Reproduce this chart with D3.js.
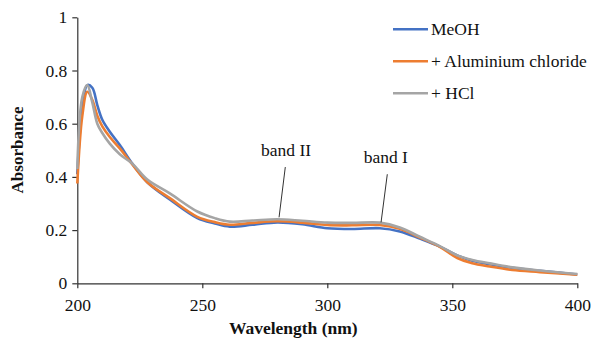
<!DOCTYPE html>
<html>
<head>
<meta charset="utf-8">
<script src="https://cdn.jsdelivr.net/npm/d3@7"></script>
<style>
  body { margin: 0; background: #fff; }
  svg text { font-family: 'Liberation Serif', 'DejaVu Serif', serif !important; fill: #111; }
</style>
</head>
<body>
<div id="chart"></div>
<script>
// wavelengths (nm) and absorbance
var wavelength = [200,202,204,206,208,210,213,217,222,228,237,248,255,261,270,280,290,300,310,321,329,337,345,352,358,365,374,385,400]
var meoh   = [0.41,0.66,0.745,0.735,0.67,0.615,0.57,0.52,0.45,0.38,0.315,0.245,0.225,0.213,0.22,0.229,0.222,0.207,0.204,0.207,0.195,0.168,0.138,0.105,0.085,0.072,0.058,0.047,0.033]
var alcl3  = [0.375,0.63,0.72,0.69,0.63,0.59,0.55,0.507,0.447,0.38,0.32,0.25,0.23,0.22,0.227,0.233,0.228,0.219,0.218,0.219,0.205,0.172,0.137,0.095,0.075,0.063,0.05,0.042,0.032]
var hcl    = [0.43,0.70,0.745,0.68,0.60,0.565,0.525,0.485,0.45,0.39,0.338,0.27,0.245,0.232,0.236,0.241,0.235,0.228,0.227,0.228,0.21,0.175,0.14,0.105,0.088,0.075,0.06,0.048,0.035]

var seriesNames = ["MeOH", "+ Aluminium chloride", "+ HCl"]
var xTicks = [200, 250, 300, 350, 400]
var yTicks = [0, 0.2, 0.4, 0.6, 0.8, 1]
var yTickLabels = ["0", "0.2", "0.4", "0.6", "0.8", "1"]

// band labels: text anchor and pointer line (nm, absorbance)
var bandLabels = ["band II", "band I"]
var bandText   = [[283.5, 0.477], [323.4, 0.452]]
var bandTop    = [[283.2, 0.437], [324, 0.41]]
var bandBottom = [[280.7, 0.248], [321.5, 0.229]]

var col = ["#4472c4", "#ed7d31", "#a5a5a5"]

var W = 593, H = 340
var margin = {top: 17.3, right: 15.7, bottom: 56.7, left: 77.3}
var serif = "'Liberation Serif', 'DejaVu Serif', serif"

var svg = d3.select("#chart").append("svg")
    .attr("width", W)
    .attr("height", H)
    .style("font-family", serif)

var x = d3.scaleLinear().domain([200, 400]).range([margin.left, W - margin.right])
var y = d3.scaleLinear().domain([0, 1]).range([H - margin.bottom, margin.top])

// axes
var xAxis = svg.append("g")
    .attr("transform", "translate(0," + y(0) + ")")
    .call(d3.axisBottom(x).tickValues(xTicks).tickSize(5).tickSizeOuter(0).tickPadding(6))
var yAxis = svg.append("g")
    .attr("transform", "translate(" + x(200) + ",0)")
    .call(d3.axisLeft(y).tickValues(yTicks).tickFormat(function(d, i){ return yTickLabels[i] }).tickSize(5).tickSizeOuter(0).tickPadding(5))

xAxis.attr("font-family", null).attr("font-size", null)
yAxis.attr("font-family", null).attr("font-size", null)
svg.selectAll(".domain, .tick line").attr("stroke", "#333").attr("stroke-width", 1.2)
svg.selectAll(".tick text")
    .style("font-size", "17.5px")
    .attr("fill", "#111")
xAxis.selectAll(".tick text").attr("dy", "0.95em")

// curves
var series = [meoh, alcl3, hcl]
var line = d3.line()
    .x(function(d, i){ return x(wavelength[i]) })
    .y(function(d){ return y(d) })
    .curve(d3.curveCatmullRom.alpha(0.5))

series.forEach(function(s, k){
    svg.append("path")
        .datum(s)
        .attr("fill", "none")
        .attr("stroke", col[k])
        .attr("stroke-width", 2.6)
        .attr("stroke-linejoin", "round")
        .attr("d", line)
})

// band annotations
bandLabels.forEach(function(b, i){
    svg.append("line")
        .attr("x1", x(bandTop[i][0])).attr("y1", y(bandTop[i][1]))
        .attr("x2", x(bandBottom[i][0])).attr("y2", y(bandBottom[i][1]))
        .attr("stroke", "#333").attr("stroke-width", 1)
    svg.append("text")
        .attr("x", x(bandText[i][0])).attr("y", y(bandText[i][1]))
        .attr("text-anchor", "middle")
        .style("font-size", "17.5px")
        .text(b)
})

// legend
var legend = svg.append("g")
seriesNames.forEach(function(n, i){
    var ly = 29.3 + i * 32
    legend.append("line")
        .attr("x1", 393).attr("x2", 428)
        .attr("y1", ly).attr("y2", ly)
        .attr("stroke", col[i]).attr("stroke-width", 2.6)
    legend.append("text")
        .attr("x", 431).attr("y", ly + 6)
        .style("font-size", "17.5px")
        .text(n)
})

// axis titles
svg.append("text")
    .attr("x", (x(200) + x(400)) / 2 - 34).attr("y", 334)
    .attr("text-anchor", "middle")
    .style("font-size", "17.5px").style("font-weight", "bold")
    .text("Wavelength (nm)")

svg.append("text")
    .attr("transform", "translate(22.5,150) rotate(-90)")
    .attr("text-anchor", "middle")
    .style("font-size", "17px").style("font-weight", "bold")
    .text("Absorbance")
</script>
</body>
</html>
